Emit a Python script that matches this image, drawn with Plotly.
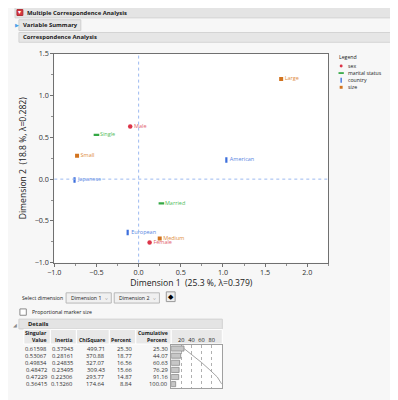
import plotly.graph_objects as go

W, H = 398, 400
OFF = 8  # page body margin of the html page

# ---------------- data ----------------
categories = ["Male", "Female", "Single", "Married", "American", "European",
              "Japanese", "Large", "Medium", "Small"]
groups = ["sex", "sex", "marital status", "marital status", "country", "country",
          "country", "size", "size", "size"]
dim1 = [-0.10, 0.13, -0.50, 0.27, 1.04, -0.13, -0.76, 1.69, 0.25, -0.73]
dim2 = [0.63, -0.76, 0.53, -0.29, 0.23, -0.64, -0.01, 1.20, -0.71, 0.28]

legend_groups = ["sex", "marital status", "country", "size"]

singular_values = ["0.61598", "0.53067", "0.49834", "0.48472", "0.47229", "0.36415"]
inertia = ["0.37943", "0.28161", "0.24835", "0.23495", "0.22306", "0.13260"]
chisquare = ["499.71", "370.88", "327.07", "309.43", "293.77", "174.64"]
percent = [25.30, 18.77, 16.56, 15.66, 14.87, 8.84]
cumulative = [25.30, 44.07, 60.63, 76.29, 91.16, 100.00]
bar_ticks = [20, 40, 60, 80]

dim1_title = "Dimension 1  (25.3 %, λ=0.379)"
dim2_title = "Dimension 2  (18.8 %, λ=0.282)"

# ---------------- styles ----------------
FONT = "Open Sans"
style = {
    "sex": dict(symbol="circle", size=4.5, color="#dc3448", label="#e2606e"),
    "marital status": dict(symbol="line-ew", size=4, color="#34a844", label="#52bd5c"),
    "country": dict(symbol="line-ns", size=4, color="#3d6fdc", label="#5a86e2"),
    "size": dict(symbol="square", size=4, color="#d2731e", label="#e08c3e"),
}

def X(px):
    return (px - OFF) / W

def Y(py):
    return 1 - (py - OFF) / H

fig = go.Figure()

for g in legend_groups:
    st = style[g]
    idx = [i for i, gg in enumerate(groups) if gg == g]
    if st["symbol"].startswith("line"):
        marker = dict(symbol=st["symbol"], size=st["size"],
                      line=dict(width=2.2, color=st["color"]), color=st["color"])
    else:
        marker = dict(symbol=st["symbol"], size=st["size"], color=st["color"],
                      line=dict(width=0))
    fig.add_trace(go.Scatter(
        x=[dim1[i] for i in idx], y=[dim2[i] for i in idx],
        text=[categories[i] for i in idx],
        mode="markers+text", textposition="middle right",
        textfont=dict(family=FONT, size=5.5, color=st["label"]),
        marker=marker, showlegend=False, hoverinfo="skip",
        xaxis="x", yaxis="y"))

# details bar chart (percent bars + cumulative line)
rows = list(range(len(percent)))
fig.add_trace(go.Bar(x=percent, y=rows, orientation="h", width=0.72,
                     marker=dict(color="#c6c6c6", line=dict(color="#8a8a8a", width=0.8)),
                     xaxis="x2", yaxis="y2", showlegend=False, hoverinfo="skip"))
fig.add_trace(go.Scatter(x=cumulative, y=rows, mode="lines",
                         line=dict(color="#9a9a9a", width=0.9),
                         xaxis="x2", yaxis="y2", showlegend=False, hoverinfo="skip"))

axis_common = dict(showgrid=False, zeroline=False, showline=True, mirror=True,
                   linecolor="#707070", linewidth=1, ticks="outside", ticklen=3,
                   tickcolor="#707070", tickformat=".1f", dtick=0.5,
                   tickfont=dict(family=FONT, size=7.2, color="#303030"),
                   minor=dict(ticks="outside", ticklen=2, dtick=0.25, tickcolor="#909090"))

fig.update_layout(
    width=W, height=H, margin=dict(l=0, r=0, t=0, b=0),
    paper_bgcolor="#f7f7f7", plot_bgcolor="#ffffff",
    showlegend=False,
    xaxis=dict(domain=[X(48), X(327)], range=[-1.0, 2.25],
               title=dict(text=dim1_title, standoff=3,
                          font=dict(family=FONT, size=8.6, color="#202020")),
               **axis_common),
    yaxis=dict(domain=[Y(264), Y(50)], range=[-1.0, 1.5],
               title=dict(text=dim2_title, standoff=6,
                          font=dict(family=FONT, size=8.6, color="#202020")),
               **axis_common),
    xaxis2=dict(domain=[X(167), X(218.5)], range=[0, 100], anchor="y2",
                side="top", tickvals=bar_ticks, ticks="", showgrid=True,
                gridcolor="#b0b0b0", griddash="dot", gridwidth=0.8,
                zeroline=False, showline=True, mirror=True, linecolor="#a0a0a0",
                tickfont=dict(family=FONT, size=5.6, color="#202020")),
    yaxis2=dict(domain=[Y(392.3), Y(348.5)], range=[5.5, -0.5], anchor="x2",
                showticklabels=False, ticks="", showgrid=False, zeroline=False,
                showline=True, mirror=True, linecolor="#a0a0a0"),
    bargap=0.2,
)

shapes = []
ann = []

def text(x, y, s, size=6, color="#202020", bold=False, anchor="left", yref="paper", ypx=True):
    ann.append(dict(x=X(x), y=(Y(y) if ypx else y), xref="paper", yref=yref,
                    text=("<b>%s</b>" % s if bold else s), showarrow=False,
                    xanchor=anchor, yanchor="middle",
                    font=dict(family=FONT, size=size, color=color)))

def rect(x0, y0, x1, y1, fill, line=None, lw=1):
    shapes.append(dict(type="rect", xref="paper", yref="paper",
                       x0=X(x0), x1=X(x1), y0=Y(y0), y1=Y(y1),
                       fillcolor=fill, line=dict(color=line or fill, width=lw if line else 0),
                       layer="below"))

# reference lines through origin
shapes.append(dict(type="line", xref="x", yref="y domain", x0=0, x1=0, y0=0, y1=1,
                   line=dict(color="#9cbaf0", width=1, dash="dot")))
shapes.append(dict(type="line", xref="x domain", yref="y", x0=0, x1=1, y0=0, y1=0,
                   line=dict(color="#9cbaf0", width=1, dash="dot")))

# scrollbar
rect(393, 0, 398, 400, "#ebebeb")
shapes.append(dict(type="line", xref="paper", yref="paper", x0=X(393), x1=X(393),
                   y0=0, y1=1, line=dict(color="#d8d8d8", width=1)))

# outline headers
rect(8, 2, 392, 13, "#e4e4e4", "#d4d4d4")
rect(10, 4.5, 16, 10.5, "#d8363e", "#b02a30")
text(13, 7.3, "▾", size=6, color="#ffffff", anchor="center")
text(18, 7.5, "Multiple Correspondence Analysis", size=5.9, bold=True)

rect(12, 15, 75, 26, "#e6e6e6", "#cfcfcf")
text(10, 20.5, "▶", size=5, color="#4aa0e8", anchor="center")
text(14, 20.5, "Variable Summary", size=5.9, bold=True)

rect(12, 28, 392, 38, "#e6e6e6", "#d4d4d4")
text(14, 33, "Correspondence Analysis", size=5.9, bold=True)

# legend
text(336, 53, "Legend", size=5.2)
for i, g in enumerate(legend_groups):
    yc = 62.3 + 7.3 * i
    st = style[g]
    if st["symbol"] == "circle":
        shapes.append(dict(type="circle", xref="paper", yref="paper",
                           x0=X(338.5), x1=X(341.5), y0=Y(yc + 1.5), y1=Y(yc - 1.5),
                           fillcolor=st["color"], line=dict(width=0)))
    elif st["symbol"] == "line-ew":
        rect(337.3, yc - 0.9, 342.7, yc + 0.9, st["color"])
    elif st["symbol"] == "line-ns":
        rect(339.3, yc - 2.6, 340.7, yc + 2.6, st["color"])
    else:
        rect(338.5, yc - 1.5, 341.5, yc + 1.5, st["color"])
    text(345, yc, g, size=5.2)

# select dimension row
text(13, 300, "Select dimension", size=5.2)
for x0, lab in [(60, "Dimension 1"), (109, "Dimension 2")]:
    rect(x0, 295, x0 + 46, 305.5, "#f0f0f0", "#b8b8b8")
    text(x0 + 3, 300.3, lab, size=5.2)
    text(x0 + 41, 300.3, "˅", size=5, color="#606060", anchor="center")
rect(162, 294, 171, 304, "#eeeeee", "#9a9a9a")
text(166.5, 299, "◆", size=7, color="#000000", anchor="center")

rect(13, 311.5, 19.5, 318, "#ffffff", "#8a8a8a")
text(23, 314.8, "Proportional marker size", size=5.2)

# details header
rect(12, 322, 219, 332, "#e4e4e4", "#d0d0d0")
text(8.5, 327.5, "◢", size=4.5, color="#8a8a8a", anchor="center")
text(19, 327, "Details", size=5.9, bold=True)

# table header cells
cells = [(17, 44), (44, 70.5), (70.5, 104), (104, 131), (131, 167), (167, 219)]
for a, b in cells:
    rect(a, 332.5, b, 347.5, "#e8e8e8", "#ffffff")
col_right = [42.5, 69, 102, 129.5, 165.5]
head1 = ["Singular", "", "", "", "Cumulative"]
head2 = ["Value", "Inertia", "ChiSquare", "Percent", "Percent"]
for r, h1, h2 in zip(col_right, head1, head2):
    if h1:
        text(r, 336.5, h1, size=5.2, bold=True, anchor="right")
    text(r, 343.5, h2, size=5.2, bold=True, anchor="right")

# table body
columns = [singular_values, inertia, chisquare,
           ["%.2f" % p for p in percent], ["%.2f" % c for c in cumulative]]
for r, col in zip(col_right, columns):
    for i, v in enumerate(col):
        text(r, i, v, size=5.8, color="#303030", anchor="right", yref="y2", ypx=False)

fig.update_layout(shapes=shapes, annotations=ann)
fig.write_html("out.html")
